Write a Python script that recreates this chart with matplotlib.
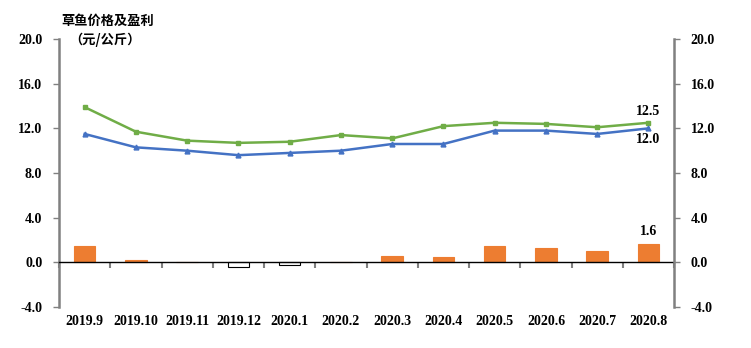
import numpy as np
import matplotlib.pyplot as plt
from matplotlib.transforms import blended_transform_factory

plt.rcParams['font.family'] = ['Liberation Serif', 'Noto Sans CJK SC', 'DejaVu Sans']

months = ['2019.9', '2019.10', '2019.11', '2019.12', '2020.1', '2020.2',
          '2020.3', '2020.4', '2020.5', '2020.6', '2020.7', '2020.8']
price_green = [13.9, 11.7, 10.9, 10.7, 10.8, 11.4, 11.1, 12.2, 12.5, 12.4, 12.1, 12.5]
price_blue = [11.5, 10.3, 10.0, 9.6, 9.8, 10.0, 10.6, 10.6, 11.8, 11.8, 11.5, 12.0]
profit = [1.45, 0.25, 0.0, -0.45, -0.2, 0.0, 0.6, 0.45, 1.45, 1.3, 1.0, 1.6]
yticks = [-4, 0, 4, 8, 12, 16, 20]

orange = '#ED7D31'
green = '#70AD47'
blue = '#4472C4'
grey = '#808080'
fs = 10

fig = plt.figure(figsize=(7.51, 3.48), dpi=100)
ax = fig.add_axes([0.0786, 0.1178, 0.819, 0.770])
x = np.arange(len(months))

bar_colors = [orange if v >= 0 else 'white' for v in profit]
edge_colors = [orange if v >= 0 else 'black' for v in profit]
ax.bar(x, profit, width=0.42, color=bar_colors, edgecolor=edge_colors, linewidth=0.8, zorder=2)

ax.plot(x, price_green, color=green, lw=1.8, marker='s', ms=3.5, zorder=3)
ax.plot(x, price_blue, color=blue, lw=1.8, marker='^', ms=3.5, zorder=3)

ax.set_xlim(-0.5, len(months) - 0.5)
ax.set_ylim(-4, 20)
ax.set_yticks(yticks)
ax.set_yticklabels(['%.1f' % v for v in yticks], fontweight='bold', fontsize=fs)

ax.spines['top'].set_visible(False)
ax.spines['left'].set_color(grey)
ax.spines['left'].set_linewidth(1.8)
ax.spines['right'].set_visible(False)
ax.spines['bottom'].set_position(('data', 0))
ax.spines['bottom'].set_color('black')
ax.spines['bottom'].set_linewidth(1.0)
ax.tick_params(axis='y', color=grey, length=4, width=1, pad=8)
ax.set_xticks(np.arange(len(months) + 1) - 0.5)
ax.tick_params(axis='x', color=grey, length=4, width=1.5, labelbottom=False)

ax2 = ax.twinx()
ax2.set_ylim(-4, 20)
ax2.set_yticks(yticks)
ax2.set_yticklabels(['%.1f' % v for v in yticks], fontweight='bold', fontsize=fs)
for s in ['top', 'bottom', 'left']:
    ax2.spines[s].set_visible(False)
ax2.spines['right'].set_color(grey)
ax2.spines['right'].set_linewidth(1.8)
ax2.tick_params(axis='y', color=grey, length=4, width=1, pad=8)

trans = blended_transform_factory(ax.transData, ax.transAxes)
for i, m in enumerate(months):
    ax.text(i, -0.055, m, transform=trans, ha='center', va='center',
            fontsize=fs, fontweight='bold')

ax.annotate('%.1f' % price_green[-1], (x[-1], price_green[-1]), xytext=(0, 8),
            textcoords='offset points', ha='center', va='center', fontsize=fs, fontweight='bold')
ax.annotate('%.1f' % price_blue[-1], (x[-1], price_blue[-1]), xytext=(0, -8),
            textcoords='offset points', ha='center', va='center', fontsize=fs, fontweight='bold')
ax.annotate('%.1f' % profit[-1], (x[-1], profit[-1]), xytext=(0, 9),
            textcoords='offset points', ha='center', va='center', fontsize=fs, fontweight='bold')

fig.text(0.081, 0.94, '草鱼价格及盈利', fontsize=9.5, fontweight='bold',
         family=['Noto Sans CJK SC'], va='center')
fig.text(0.092, 0.885, '（元/公斤）', fontsize=9.5, fontweight='bold',
         family=['Noto Sans CJK SC'], va='center')

fig.savefig('out.png', dpi=100)
